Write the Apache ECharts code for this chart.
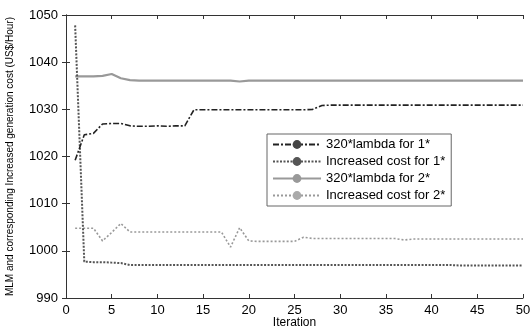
<!DOCTYPE html>
<html>
<head>
<meta charset="utf-8">
<script src="https://cdn.jsdelivr.net/npm/echarts@6/dist/echarts.min.js"></script>
<style>html,body{margin:0;padding:0;background:#fff;}#c{width:531px;height:329px;}</style>
</head>
<body>
<div id="c"></div>
<script>
var iterations = [];
for (var k = 1; k <= 50; k++) iterations.push(k);

var seriesNames = ['320*lambda for 1*', 'Increased cost for 1*', '320*lambda for 2*', 'Increased cost for 2*'];

var lambda1 = [1019.2, 1024.6, 1024.9, 1026.9, 1027.0, 1027.0, 1026.5, 1026.4, 1026.4, 1026.5,
               1026.4, 1026.5, 1026.5, 1029.9, 1029.9, 1029.9, 1029.9, 1029.9, 1029.9, 1029.9,
               1029.9, 1029.9, 1029.9, 1029.9, 1029.9, 1029.9, 1030.0, 1030.8, 1030.9, 1030.9,
               1030.9, 1030.9, 1030.9, 1030.9, 1030.9, 1030.9, 1030.9, 1030.9, 1030.9, 1030.9,
               1030.9, 1030.9, 1030.9, 1030.9, 1030.9, 1030.9, 1030.9, 1030.9, 1030.9, 1030.9];

var incCost1 = [1047.8, 997.7, 997.6, 997.6, 997.5, 997.4, 997.0, 997.0, 997.0, 997.0,
                997.0, 997.0, 997.0, 997.0, 997.0, 997.0, 997.0, 997.0, 997.0, 997.0,
                997.0, 997.0, 997.0, 997.0, 997.0, 997.0, 997.0, 997.0, 997.0, 997.0,
                997.0, 997.0, 997.0, 997.0, 997.0, 997.0, 997.0, 997.0, 997.0, 997.0,
                997.0, 997.0, 996.9, 996.9, 996.9, 996.9, 996.9, 996.9, 996.9, 996.9];

var lambda2 = [1037.0, 1037.0, 1037.0, 1037.1, 1037.5, 1036.6, 1036.2, 1036.1, 1036.1, 1036.1,
               1036.1, 1036.1, 1036.1, 1036.1, 1036.1, 1036.1, 1036.1, 1036.1, 1035.9, 1036.1,
               1036.1, 1036.1, 1036.1, 1036.1, 1036.1, 1036.1, 1036.1, 1036.1, 1036.1, 1036.1,
               1036.1, 1036.1, 1036.1, 1036.1, 1036.1, 1036.1, 1036.1, 1036.1, 1036.1, 1036.1,
               1036.1, 1036.1, 1036.1, 1036.1, 1036.1, 1036.1, 1036.1, 1036.1, 1036.1, 1036.1];

var incCost2 = [1004.8, 1004.8, 1004.8, 1002.1, 1003.9, 1005.8, 1004.0, 1004.0, 1004.0, 1004.0,
                1004.0, 1004.0, 1004.0, 1004.0, 1004.0, 1004.0, 1004.0, 1000.8, 1004.9, 1002.1,
                1002.0, 1002.0, 1002.0, 1002.0, 1002.0, 1002.9, 1002.6, 1002.6, 1002.6, 1002.6,
                1002.6, 1002.6, 1002.6, 1002.6, 1002.6, 1002.6, 1002.3, 1002.5, 1002.5, 1002.5,
                1002.5, 1002.5, 1002.5, 1002.5, 1002.5, 1002.5, 1002.5, 1002.5, 1002.5, 1002.5];

var xTicks = [0, 5, 10, 15, 20, 25, 30, 35, 40, 45, 50];
var yTicks = [990, 1000, 1010, 1020, 1030, 1040, 1050];

function pairs(vals) { return iterations.map(function (x, i) { return [x, vals[i]]; }); }

var FONT = '"Liberation Sans", Arial, sans-serif';
var axisColor = '#333';
var chart = echarts.init(document.getElementById('c'), null, { renderer: 'canvas' });

var baseX = { type: 'value', min: xTicks[0], max: xTicks[xTicks.length - 1], interval: 5 };
var baseY = { type: 'value', min: yTicks[0], max: yTicks[yTicks.length - 1], interval: 10 };
function plain(v) { return String(v); }

chart.setOption({
  animation: false,
  backgroundColor: '#fff',
  grid: { left: 66, right: 8, top: 15, bottom: 31, show: false, containLabel: false, outerBoundsMode: 'none' },
  legend: {
    data: seriesNames,
    orient: 'vertical',
    left: 267, top: 134,
    backgroundColor: '#fff',
    borderColor: '#666', borderWidth: 1,
    padding: [4, 6, 4, 5],
    itemWidth: 48, itemHeight: 11, itemGap: 4,
    textStyle: { fontFamily: FONT, fontSize: 13, color: '#000' }
  },
  xAxis: [
    Object.assign({}, baseX, {
      position: 'bottom',
      name: 'Iteration', nameLocation: 'middle', nameGap: 19, nameMoveOverlap: false,
      nameTextStyle: { fontFamily: FONT, fontSize: 12, color: '#000', verticalAlign: 'top' },
      axisLine: { show: true, lineStyle: { color: axisColor, width: 1 } },
      axisTick: { show: true, inside: true, length: 4, lineStyle: { color: axisColor } },
      axisLabel: { fontFamily: FONT, fontSize: 13, color: '#000', margin: 6, formatter: plain },
      splitLine: { show: false }
    }),
    Object.assign({}, baseX, {
      position: 'top',
      axisLine: { show: true, lineStyle: { color: axisColor, width: 1 } },
      axisTick: { show: true, inside: true, length: 4, lineStyle: { color: axisColor } },
      axisLabel: { show: false },
      splitLine: { show: false }
    })
  ],
  yAxis: [
    Object.assign({}, baseY, {
      position: 'left',
      name: 'MLM and corresponding Increased generation cost (US$/Hour)',
      nameLocation: 'middle', nameGap: 51, nameRotate: 90, nameMoveOverlap: false,
      nameTextStyle: { fontFamily: FONT, fontSize: 10, color: '#000' },
      axisLine: { show: true, lineStyle: { color: axisColor, width: 1 } },
      axisTick: { show: true, inside: true, length: 4, lineStyle: { color: axisColor } },
      axisLabel: { fontFamily: FONT, fontSize: 13, color: '#000', margin: 8, formatter: plain },
      splitLine: { show: false }
    }),
    Object.assign({}, baseY, {
      position: 'right',
      axisLine: { show: true, lineStyle: { color: axisColor, width: 1 } },
      axisTick: { show: true, inside: true, length: 4, lineStyle: { color: axisColor } },
      axisLabel: { show: false },
      splitLine: { show: false }
    })
  ],
  series: [
    {
      name: seriesNames[0], type: 'line', data: pairs(lambda1),
      showSymbol: false, symbol: 'circle', symbolSize: 4,
      itemStyle: { color: '#444' },
      lineStyle: { color: '#222', width: 1.6, type: [6, 2, 2, 2] }, z: 4
    },
    {
      name: seriesNames[1], type: 'line', data: pairs(incCost1),
      showSymbol: false, symbol: 'circle', symbolSize: 4,
      itemStyle: { color: '#555' },
      lineStyle: { color: '#555', width: 2, type: [2, 1.5] }, z: 3
    },
    {
      name: seriesNames[2], type: 'line', data: pairs(lambda2),
      showSymbol: false, symbol: 'none',
      itemStyle: { color: '#999' },
      lineStyle: { color: '#999', width: 2.2, type: 'solid' }, z: 2
    },
    {
      name: seriesNames[3], type: 'line', data: pairs(incCost2),
      showSymbol: false, symbol: 'circle', symbolSize: 4,
      itemStyle: { color: '#aaa' },
      lineStyle: { color: '#999', width: 1.6, type: [2, 2] }, z: 2
    }
  ]
});
</script>
</body>
</html>
